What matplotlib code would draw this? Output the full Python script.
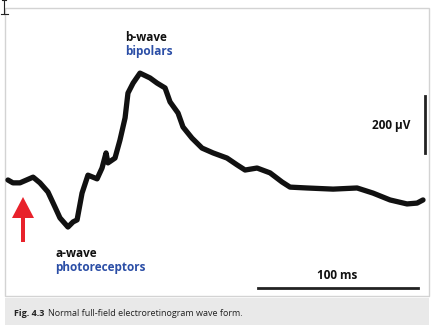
import matplotlib
matplotlib.use("Agg")
import matplotlib.pyplot as plt
from matplotlib.patches import Rectangle, FancyArrow
from matplotlib.lines import Line2D

# ---- data: ERG waveform (time in ms after flash, amplitude in microvolts) ----
time_ms = [-9.4, -6.3, -1.9, 6.3, 10.6, 15.6, 20.0, 23.1, 28.1, 31.3, 33.8, 36.9,
           40.6, 46.3, 49.4, 51.9, 53.1, 57.5, 60.6, 63.8, 65.6, 68.8, 73.1, 79.4,
           83.8, 88.8, 91.9, 96.9, 100.0, 105.6, 111.9, 118.8, 127.5, 133.8, 138.8,
           146.3, 154.4, 161.9, 166.9, 177.5, 193.8, 208.8, 218.8, 229.4, 240.0,
           246.3, 250.0]
amp_uv = [0, -10, -10, 10, -10, -42, -95, -133, -165, -147, -140, -46,
          17, 4, 42, 95, 60, 77, 140, 218, 305, 340, 375, 358,
          340, 323, 274, 235, 186, 147, 112, 95, 77, 53, 35,
          42, 25, -7, -25, -28, -32, -28, -46, -70, -84,
          -81, -70]

scale_ms = 100
scale_uv = 200
flash_ms = 0

labels = {
    "b": ("b-wave", "bipolars"),
    "a": ("a-wave", "photoreceptors"),
}
scale_ms_label = "100 ms"
scale_uv_label = "200 µV"
caption_bold = "Fig. 4.3"
caption_text = "Normal full-field electroretinogram wave form."

W, H = 439, 330
fig = plt.figure(figsize=(W / 100, H / 100), dpi=100)
fig.patch.set_facecolor("white")

def fx(px):
    return px / W

def fy(py):
    return 1 - py / H

# background frame + caption band (figure coords)
fig.patches.append(Rectangle((fx(5), fy(296)), fx(424), 288 / H, transform=fig.transFigure,
                             facecolor="white", edgecolor="#d3d3d3", lw=1.0, zorder=-2))
fig.patches.append(Rectangle((fx(5), fy(325)), fx(424), 27 / H, transform=fig.transFigure,
                             facecolor="#e9e9e9", edgecolor="none", zorder=-2))
# tiny cursor artifact at top-left
for (x0, y0, x1, y1) in [(4, 0, 4, 14), (1, 14, 8, 14), (2, 0, 6, 0)]:
    fig.add_artist(Line2D([fx(x0), fx(x1)], [fy(y0), fy(y1)], transform=fig.transFigure,
                          color="#222222", lw=0.8))

ax = fig.add_axes([0, 0, 1, 1])
ax.set_zorder(2)
ax.set_facecolor("none")
ax.patch.set_alpha(0)
px_per_ms = 1.6
px_per_uv = 0.285
x0_px, y0_px = 23, 180
ax.set_xlim((0 - x0_px) / px_per_ms, (W - x0_px) / px_per_ms)
ax.set_ylim((y0_px - H) / px_per_uv, y0_px / px_per_uv)
ax.axis("off")

ax.plot(time_ms, amp_uv, color="#111111", lw=3.8, solid_capstyle="round",
        solid_joinstyle="round", zorder=3)

# scale bars
hb_start = (258 - x0_px) / px_per_ms
hb_y = (y0_px - 288) / px_per_uv
ax.plot([hb_start, hb_start + scale_ms], [hb_y, hb_y], color="#222222", lw=2.0)
vb_x = (425 - x0_px) / px_per_ms
vb_y = (y0_px - 153) / px_per_uv
ax.plot([vb_x, vb_x], [vb_y, vb_y + scale_uv], color="#222222", lw=2.0)

# stimulus arrow
base_v = (y0_px - 242) / px_per_uv
tip_v = (y0_px - 197) / px_per_uv
ax.add_patch(FancyArrow(flash_ms, base_v, 0, tip_v - base_v, width=4 / px_per_ms,
                        head_width=22 / px_per_ms, head_length=21 / px_per_uv,
                        length_includes_head=True, color="#e8222b", lw=0, zorder=4))

font = "Open Sans"
black = "#111111"
blue = "#2b4ea6"
fs = 8.5
fig.text(fx(125), fy(41), labels["b"][0], fontsize=fs, fontweight="bold", family=font,
         color=black, va="baseline", ha="left")
fig.text(fx(125), fy(55), labels["b"][1], fontsize=fs, fontweight="bold", family=font,
         color=blue, va="baseline", ha="left")
fig.text(fx(55), fy(257), labels["a"][0], fontsize=fs, fontweight="bold", family=font,
         color=black, va="baseline", ha="left")
fig.text(fx(55), fy(271), labels["a"][1], fontsize=fs, fontweight="bold", family=font,
         color=blue, va="baseline", ha="left")
fig.text(fx(372), fy(129), scale_uv_label, fontsize=fs, fontweight="bold", family=font,
         color=black, va="baseline", ha="left")
fig.text(fx(317), fy(279), scale_ms_label, fontsize=fs, fontweight="bold", family=font,
         color=black, va="baseline", ha="left")

t1 = fig.text(fx(14), fy(316), caption_bold, fontsize=6.5, fontweight="bold", family=font,
              color="#222222", va="baseline", ha="left")
fig.canvas.draw()
bb = t1.get_window_extent()
fig.text(bb.x1 / W + fx(4), fy(316), caption_text, fontsize=6.5, family=font,
         color="#222222", va="baseline", ha="left")

fig.savefig("out.png", dpi=100, facecolor="white")
